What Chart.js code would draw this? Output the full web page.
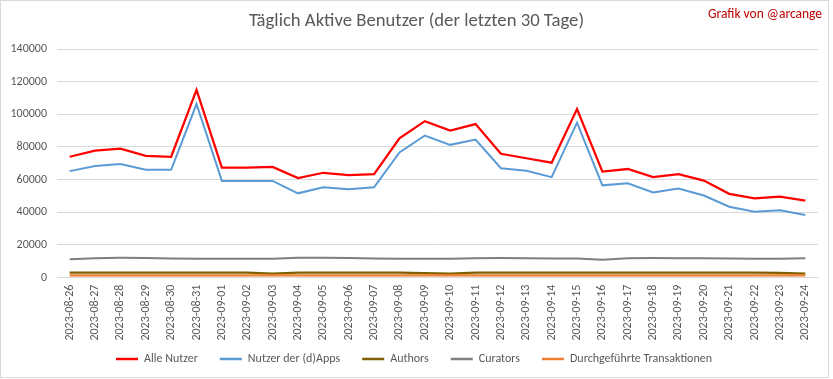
<!DOCTYPE html>
<html>
<head>
<meta charset="utf-8">
<script src="https://cdn.jsdelivr.net/npm/chart.js@4.4.0/dist/chart.umd.min.js"></script>
<style>
  html, body { margin: 0; padding: 0; background: #ffffff; }
  #wrap { width: 833px; height: 379px; position: relative; }
</style>
</head>
<body>
<div id="wrap"><canvas id="c" width="833" height="379"></canvas></div>
<script>
const categories = [
  "2023-08-26","2023-08-27","2023-08-28","2023-08-29","2023-08-30","2023-08-31",
  "2023-09-01","2023-09-02","2023-09-03","2023-09-04","2023-09-05","2023-09-06",
  "2023-09-07","2023-09-08","2023-09-09","2023-09-10","2023-09-11","2023-09-12",
  "2023-09-13","2023-09-14","2023-09-15","2023-09-16","2023-09-17","2023-09-18",
  "2023-09-19","2023-09-20","2023-09-21","2023-09-22","2023-09-23","2023-09-24"
];
const alleNutzer = [74000, 77800, 79000, 74500, 74000, 115000, 67300, 67300, 67800, 61000,
  64200, 62800, 63400, 85300, 95800, 90000, 94000, 75800, 73100, 70400,
  103200, 64900, 66500, 61500, 63300, 59400, 51300, 48500, 49600, 47200];
const nutzerDApps = [65200, 68300, 69600, 66000, 66000, 106300, 59200, 59200, 59200, 51600,
  55300, 54100, 55300, 76600, 87000, 81300, 84500, 67000, 65400, 61500,
  94900, 56500, 57800, 52100, 54600, 50300, 43400, 40400, 41200, 38400];
const authors = [3100, 3100, 3100, 3100, 3100, 3100, 3100, 3000, 2500, 3100,
  3100, 3100, 3100, 3000, 2700, 2500, 3100, 3100, 3100, 3100,
  3100, 3100, 3100, 3100, 3100, 3100, 3100, 3100, 2900, 2400];
const curators = [11300, 11900, 12100, 12000, 11700, 11600, 11600, 11600, 11600, 12100,
  12100, 12000, 11700, 11600, 11600, 11500, 11900, 12000, 11800, 11700,
  11700, 10900, 11800, 12000, 11900, 11900, 11700, 11600, 11600, 11900];
const transaktionen = [1300, 1300, 1300, 1300, 1300, 1300, 1300, 1300, 1300, 1300,
  1300, 1300, 1300, 1300, 1300, 1300, 1300, 1300, 1300, 1300,
  1300, 1300, 1300, 1300, 1300, 1300, 1300, 1300, 1300, 1300];
const yTicks = [0, 20000, 40000, 60000, 80000, 100000, 120000, 140000];
const seriesNames = ["Alle Nutzer", "Nutzer der (d)Apps", "Authors", "Curators", "Durchgeführte Transaktionen"];
const chartTitle = "Täglich Aktive Benutzer (der letzten 30 Tage)";
const creditText = "Grafik von @arcange";

const FONT = "Carlito, Calibri, 'Liberation Sans', sans-serif";
const TXT = "#595959";
const colors = ["#ff0000", "#5b9bd5", "#7f6000", "#7f7f7f", "#ed7d31"];
const widths = [2.25, 2, 2.25, 2, 2.25];
const seriesData = [alleNutzer, nutzerDApps, authors, curators, transaktionen];

const frame = {
  id: 'frame',
  afterLayout(chart) {
    if (chart.legend) { chart.legend.left += 5; chart.legend.right += 5; }
  },
  afterDraw(chart) {
    const ctx = chart.ctx;
    ctx.save();
    ctx.strokeStyle = "#d9d9d9";
    ctx.lineWidth = 1;
    ctx.strokeRect(0.5, 0.5, 828, 377);
    ctx.textBaseline = "middle";
    ctx.fillStyle = TXT;
    ctx.font = "18.7px " + FONT;
    ctx.textAlign = "center";
    ctx.fillText(chartTitle, 416.5, 21);
    ctx.fillStyle = "#c00000";
    ctx.font = "13.5px " + FONT;
    ctx.textAlign = "right";
    ctx.fillText(creditText, 822, 15);
    ctx.restore();
  }
};

new Chart(document.getElementById('c'), {
  type: 'line',
  data: {
    labels: categories,
    datasets: seriesData.map((d, i) => ({
      label: seriesNames[i],
      data: d,
      borderColor: colors[i],
      backgroundColor: colors[i],
      borderWidth: widths[i],
      pointRadius: 0,
      tension: 0,
      order: 5 - i
    }))
  },
  plugins: [frame],
  options: {
    responsive: false,
    animation: false,
    layout: { padding: { left: 0, right: 15, bottom: 4, top: 49 } },
    plugins: {
      title: { display: false },
      legend: {
        position: 'bottom',
        labels: {
          color: TXT,
          font: { family: FONT, size: 12 },
          boxWidth: 22,
          boxHeight: 2.5,
          padding: 22,
          sort: (a, b) => a.datasetIndex - b.datasetIndex,
          generateLabels: (chart) => {
            const items = Chart.defaults.plugins.legend.labels.generateLabels(chart);
            items.forEach(it => { it.lineWidth = 0; it.strokeStyle = 'rgba(0,0,0,0)'; });
            return items;
          }
        }
      },
      tooltip: { enabled: false }
    },
    scales: {
      x: {
        offset: true,
        grid: { display: false, drawTicks: false },
        border: { color: "#d9d9d9" },
        ticks: { color: TXT, font: { family: FONT, size: 12 }, minRotation: 90, maxRotation: 90, padding: 7, autoSkip: false },
        afterFit: (s) => { s.height = 53.4; s._computeLabelArea = () => undefined; }
      },
      y: {
        min: 0, max: 140000,
        grid: { color: "#d9d9d9", drawTicks: false },
        border: { display: false },
        afterBuildTicks: (s) => { s.ticks = yTicks.map(v => ({ value: v })); },
        ticks: { color: TXT, font: { family: FONT, size: 12 }, padding: 10, callback: (v) => String(v) },
        afterFit: (s) => { s.width = 57; }
      }
    }
  }
});
</script>
</body>
</html>
